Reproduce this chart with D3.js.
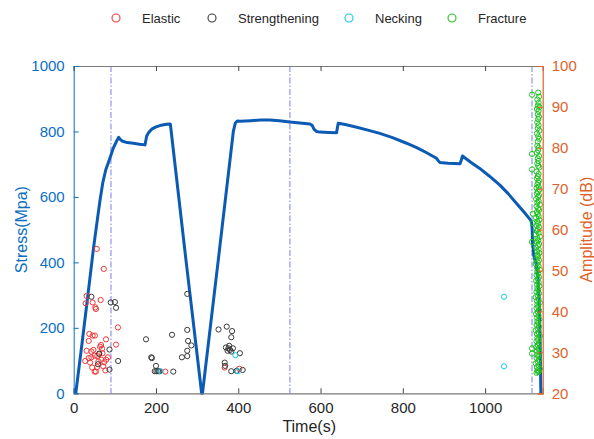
<!DOCTYPE html>
<html>
<head>
<meta charset="utf-8">
<script src="https://cdn.jsdelivr.net/npm/d3@7/dist/d3.min.js"></script>
<style>
  html, body { margin: 0; padding: 0; background: #fff; }
  svg { display: block; font-family: "Liberation Sans", Arial, sans-serif; }
</style>
</head>
<body>
<svg id="chart" width="594" height="439"></svg>
<script>
// Stress–time curve of the tensile test (time in s, stress in MPa)
const stressCurve = [
  [5,0],[20,150],[35,305],[47.6,438],[57.4,530],[64,590],[70.5,642],[78,683],[86.5,713],
  [96.2,749],[104,770],[109.4,782],[113,776],[117.4,771],[130,766],[144.8,764],[160,761],
  [173.3,759],[175,770],[177.4,786],[183,798],[189.6,807],[200,814],[209.7,818],[222,821],
  [232.3,823],[235,822],[272.9,407],[311,0],[313,0],[351.4,407],[388,800],[393,826],
  [397.6,832],[404,831],[430,833],[455,835],[477,835],[500,833],[525.6,829],[550,826],
  [574,823],[580,818],[584,807],[590,800],[598.5,798],[620,797],[639,796],[641,812],
  [643,825],[660,821],[688,813],[715,804],[744,794],[775,781],[809,764],[835,750],
  [858,735],[872,725],[882,718],[886,711],[890,705],[910,703],[939,701],[942,712],
  [945,725],[965,706],[987,687],[1010,664],[1036,636],[1056,610],[1076.5,580],[1095,553],
  [1110.6,529],[1113,521],[1114.5,500],[1115,472],[1115.5,455],[1117,440],[1118.5,420],
  [1120,412],[1124,395],[1128,360],[1131,300],[1133,200],[1134.5,100],[1135.5,0]
];

// Acoustic emission hits by stage: [time (s), amplitude (dB)]
const elastic = [
  [31.5,43.8],[29,42],[46,42.2],[52.5,41],[54,40.6],[65.5,42.8],[38,34.5],[46,34.1],
  [51.5,34.1],[36.5,32.8],[78.5,33.2],[107.5,36.1],[103,31.9],[31.5,30.4],[43,30.2],
  [48,30.6],[64,31.4],[69,30.9],[66.5,31.8],[28,27.9],[36.5,28.6],[43,28.8],[51,29.2],
  [57.5,29.1],[62,29.6],[67,28.2],[74,27.6],[79,28.2],[83,28.8],[51,25.3],[54,25.3],
  [57,26.4],[72,26.6],[77,25.6],[56,55.3],[73,50.4],[40,27.5],[60,27.8],[45,26.3],
  [70,29.8],[222.6,25.3],[367,26.3],[402.5,26]
];
const strengthening = [
  [43,43.6],[90,42.2],[100,42.3],[103,40.9],[87,30.7],[62,29.7],[59,27.1],[87,25.8],
  [108,27.9],[175.7,33.2],[188.6,28.8],[190,28.6],[239,34.3],[276,44.3],[276,35.5],
  [286,31.7],[278,32.8],[276,30.4],[276,29.1],[263,28.8],[200,26.7],[197,25.4],
  [201,25.4],[205,25.4],[208,25.4],[242,25.3],[352,35.6],[372,36.3],[385,35.2],
  [383,33.7],[370,31.2],[376,31],[380,30.6],[383,30.2],[378,31.6],[387,31],[374,30.4],
  [404,29.8],[367,27.5],[368,26.7],[383,25.4],[410.7,25.7],[396,25.5]
];
const necking = [
  [211,25.4],[393,29.3],[399,25.4],[1046,43.6],[1046,26.6]
];
const fracture = [
  [1114,93],[1129,93.5],[1131,92.5],[1127,91.8],[1130,91],[1128,90.3],[1132,90],[1126,89.5],
  [1130,89],[1128,88.2],[1131,87.6],[1129,87],[1127,86.2],[1130,85.5],[1128,84.8],[1132,84.2],
  [1126,83.5],[1129,82.8],[1131,82.2],[1128,81.5],[1127,80.5],[1130,80],[1129,79.4],[1114,78.5],
  [1126,78.8],[1131,78],[1128,77.4],[1130,76.8],[1127,76.2],[1129,75.6],[1132,75.2],[1114,74.7],
  [1125,74.2],[1130,73.6],[1128,73],[1126,72.5],[1131,72],[1129,71.5],
  [1127,71],[1130,70.5],[1125,70.2],[1132,69.8],[1128,69.3],[1126,68.8],[1131,68.4],[1129,68],
  [1124,67.5],[1130,67],[1127,66.6],[1133,66.1],[1125,65.7],[1129,65.2],[1131,64.8],[1126,64.3],
  [1116,63.9],[1128,63.8],[1130,63.3],[1124,62.9],[1132,62.4],[1127,62],[1116,61.6],[1129,61.5],
  [1125,61],[1131,60.6],[1128,60.1],[1126,59.7],[1130,59.2],[1123,58.8],[1133,58.3],[1127,57.9],
  [1114,57],[1129,57.4],[1125,57],[1131,56.5],[1128,56.1],[1124,55.6],[1130,55.2],[1126,54.7],
  [1132,54.3],[1127,53.8],[1129,53.4],[1125,52.9],[1131,52.5],[1128,52],[1123,51.6],[1130,51.1],
  [1126,50.7],[1133,50.2],[1127,49.8],[1129,49.3],[1125,48.9],[1131,48.4],[1128,48],[1124,47.5],
  [1130,47.1],[1126,46.6],[1132,46.2],[1127,45.7],[1129,45.3],[1125,44.8],[1131,44.4],[1128,43.9],
  [1123,43.5],[1130,43],[1126,42.6],[1133,42.1],[1127,41.7],[1129,41.2],[1125,40.8],[1131,40.3],
  [1128,39.9],[1124,39.4],[1130,39],[1126,38.5],[1132,38.1],[1127,37.6],[1129,37.2],[1125,36.7],
  [1131,36.3],[1128,35.8],[1123,35.4],[1130,34.9],[1126,34.5],[1133,34],[1127,33.6],[1129,33.1],
  [1125,32.7],[1131,32.2],[1128,31.8],[1114,31],[1124,31.3],[1130,30.9],[1114,29.7],[1126,30.4],
  [1132,30],[1127,29.5],[1129,29.1],[1125,28.6],[1131,28.2],[1128,27.7],[1123,27.3],[1130,26.8],
  [1126,26.4],[1133,26],[1127,25.6],[1129,25.2],[1125,25],[1131,25.4]
];

// Stage boundaries (s)
const stageLines = [90.6, 525.6, 1114];

const xTicks = [0, 200, 400, 600, 800, 1000];
const stressTicks = [0, 200, 400, 600, 800, 1000];
const ampTicks = [20, 30, 40, 50, 60, 70, 80, 90, 100];

const legendItems = [
  { name: "Elastic", color: "#f2383a" },
  { name: "Strengthening", color: "#3a3a3a" },
  { name: "Necking", color: "#12c8ea" },
  { name: "Fracture", color: "#1fc21f" }
];
const seriesData = [elastic, strengthening, necking, fracture];

const blue = "#0a6fc2";
const orange = "#e0622a";
const curveColor = "#0b5bb5";

const svg = d3.select("#chart");
const L = 73.7, R = 542.7, T = 66, B = 393.3;

const x = d3.scaleLinear().domain([0, 1140]).range([L, R]);
const yS = d3.scaleLinear().domain([0, 1000]).range([B, T]);
const yA = d3.scaleLinear().domain([20, 100]).range([B, T]);

// Stage boundary lines
svg.append("g").selectAll("line").data(stageLines).join("line")
  .attr("x1", d => x(d)).attr("x2", d => x(d))
  .attr("y1", T).attr("y2", B)
  .attr("stroke", "#7b7bf0").attr("stroke-width", 1)
  .attr("stroke-dasharray", "6,2,1.5,2");

// Stress curve
svg.append("path")
  .datum(stressCurve)
  .attr("fill", "none")
  .attr("stroke", curveColor)
  .attr("stroke-width", 3)
  .attr("stroke-linejoin", "round")
  .attr("d", d3.line().x(d => x(d[0])).y(d => yS(d[1])));

// Amplitude scatter
seriesData.forEach((data, i) => {
  svg.append("g").selectAll("circle").data(data).join("circle")
    .attr("cx", d => x(d[0])).attr("cy", d => yA(d[1]))
    .attr("r", 2.6)
    .attr("fill", "none")
    .attr("stroke", legendItems[i].color)
    .attr("stroke-width", 1);
});

// Axes (ticks point inward)
const tickLen = 5;
const fmt = d3.format("d");
const bottomAxis = svg.append("g").attr("transform", `translate(0,${B})`)
  .call(d3.axisBottom(x).tickValues(xTicks).tickFormat(fmt).tickSize(-tickLen).tickPadding(9));
const topAxis = svg.append("g").attr("transform", `translate(0,${T})`)
  .call(d3.axisTop(x).tickValues(xTicks).tickSize(-tickLen).tickFormat(""));
[bottomAxis, topAxis].forEach(g => {
  g.select(".domain").attr("stroke", "#7a7a7a").attr("stroke-width", 1.2);
  g.selectAll(".tick line").attr("stroke", "#444");
  g.selectAll("text").attr("fill", "#262626").attr("font-size", 15)
    .attr("font-family", "Liberation Sans, Arial, sans-serif");
});

const leftAxis = svg.append("g").attr("transform", `translate(${L},0)`)
  .call(d3.axisLeft(yS).tickValues(stressTicks).tickFormat(fmt).tickSize(-tickLen).tickPadding(9));
leftAxis.select(".domain").attr("stroke", blue).attr("stroke-width", 1);
leftAxis.selectAll(".tick line").attr("stroke", blue);
leftAxis.selectAll("text").attr("fill", blue).attr("font-size", 15)
  .attr("font-family", "Liberation Sans, Arial, sans-serif");

const rightAxis = svg.append("g").attr("transform", `translate(${R},0)`)
  .call(d3.axisRight(yA).tickValues(ampTicks).tickFormat(fmt).tickSize(-tickLen).tickPadding(9));
rightAxis.select(".domain").attr("stroke", orange).attr("stroke-width", 1.2);
rightAxis.selectAll(".tick line").attr("stroke", orange);
rightAxis.selectAll("text").attr("fill", orange).attr("font-size", 15)
  .attr("font-family", "Liberation Sans, Arial, sans-serif");

// Axis titles
svg.append("text").attr("x", (L + R) / 2 + 1).attr("y", 432)
  .attr("text-anchor", "middle").attr("font-size", 16).attr("fill", "#262626")
  .text("Time(s)");
svg.append("text").attr("transform", `translate(27,${(T + B) / 2}) rotate(-90)`)
  .attr("text-anchor", "middle").attr("font-size", 16).attr("fill", blue)
  .text("Stress(Mpa)");
svg.append("text").attr("transform", `translate(592,${(T + B) / 2}) rotate(-90)`)
  .attr("text-anchor", "middle").attr("font-size", 16).attr("fill", orange)
  .text("Amplitude (dB)");

// Legend
const legendX = [116, 212, 349, 452];
const lg = svg.append("g");
legendItems.forEach((item, i) => {
  lg.append("circle").attr("cx", legendX[i]).attr("cy", 18).attr("r", 4)
    .attr("fill", "none").attr("stroke", item.color).attr("stroke-width", 1.1);
  lg.append("text").attr("x", legendX[i] + 26).attr("y", 22.5)
    .attr("font-size", 13).attr("fill", "#262626").text(item.name);
});
</script>
</body>
</html>
